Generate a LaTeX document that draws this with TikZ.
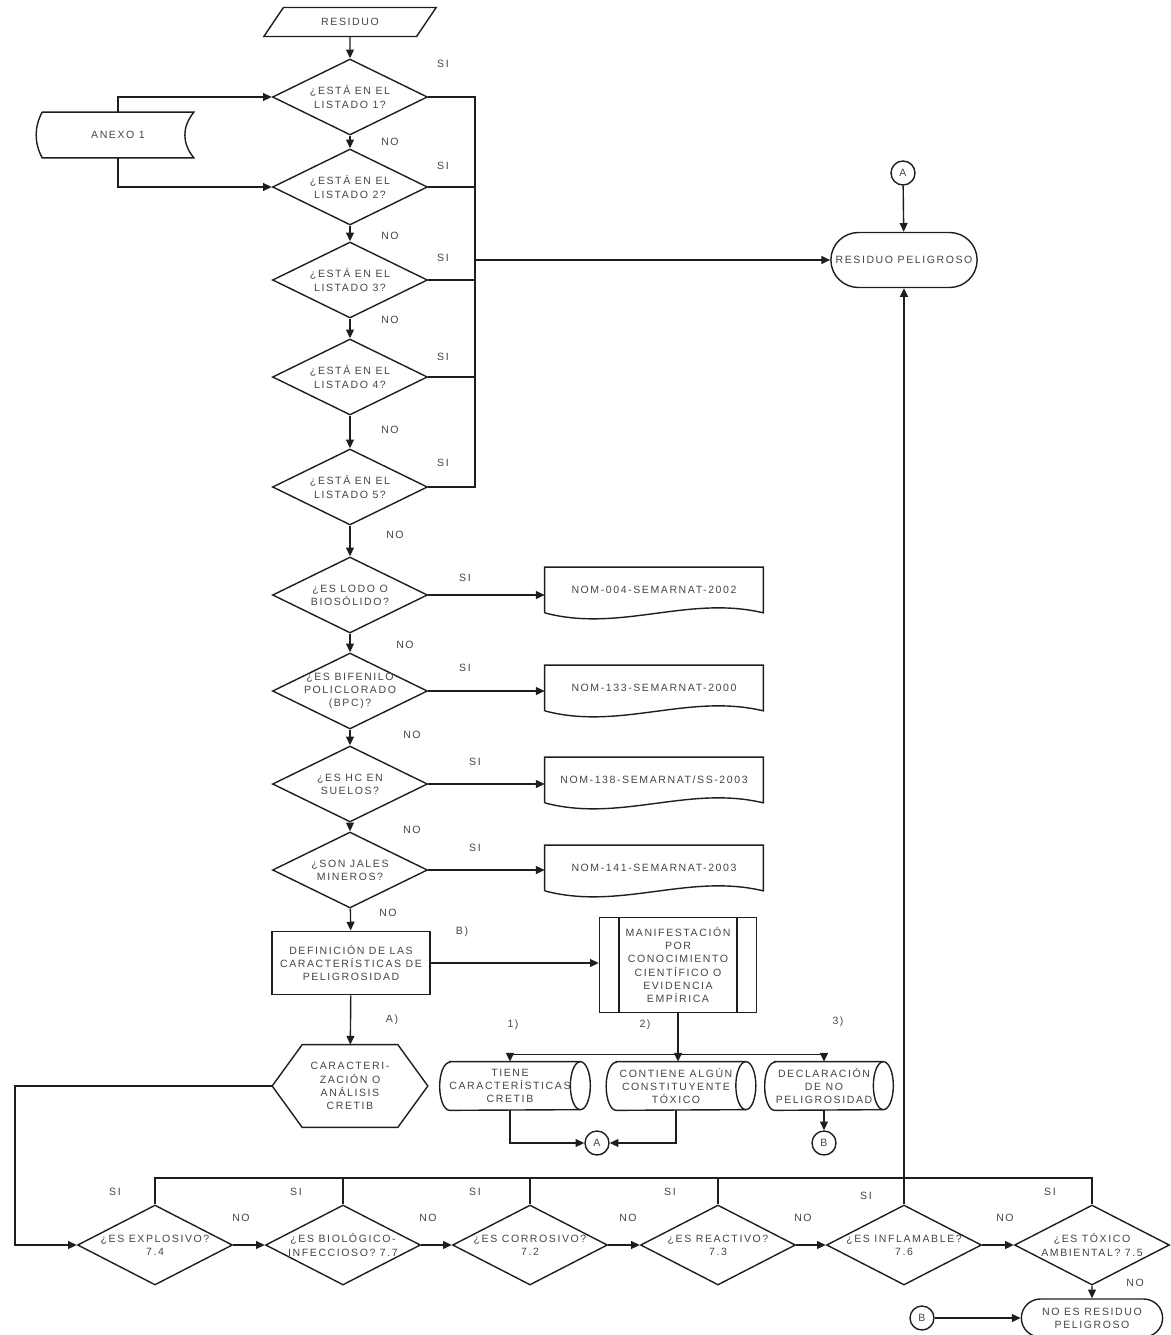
\documentclass[tikz,border=0pt]{standalone}
\usepackage{fontspec}
\newfontfamily\flowfont{Liberation Sans}[LetterSpace=15]
\usetikzlibrary{shapes.geometric, shapes.misc, arrows.meta, positioning, calc}
\definecolor{clrLine}{HTML}{1E1E1E}
\definecolor{clrText}{HTML}{444444}

\begin{document}
\begin{tikzpicture}[x=0.02cm, y=-0.02cm,
    txt/.style={font=\flowfont\fontsize{6}{7.5}\selectfont, text=clrText, align=center},
    decision/.style={txt, diamond, draw=clrLine, line width=0.8pt, aspect=2.1, minimum width=3.1cm, minimum height=1.52cm, inner xsep=-6pt, inner ysep=0pt},
    decwide/.style={decision, minimum height=1.6cm, inner xsep=-16pt},
    inout/.style={txt, trapezium, trapezium left angle=62, trapezium right angle=118, trapezium stretches=true, draw=clrLine, line width=0.8pt, minimum width=3.45cm, minimum height=0.58cm},
    process/.style={txt, rectangle, draw=clrLine, line width=1.1pt, minimum width=3.16cm, minimum height=1.26cm},
    predef/.style={txt, rectangle, draw=clrLine, line width=0.8pt, minimum width=3.14cm, minimum height=1.9cm},
    terminal/.style={txt, rounded rectangle, draw=clrLine, line width=0.8pt, minimum width=3.16cm, minimum height=1.1cm},
    connector/.style={txt, circle, draw=clrLine, line width=0.8pt, minimum size=0.48cm, inner sep=0pt},
    docbox/.style={txt, rectangle, minimum width=4.36cm, minimum height=0.9cm},
    storebox/.style={txt, rectangle, minimum width=3.02cm, minimum height=0.9cm},
    hexbox/.style={txt, rectangle, minimum width=3.1cm, minimum height=1.64cm},
    diskbox/.style={txt, rectangle, minimum height=0.96cm, inner xsep=0pt},
    lbl/.style={txt},
    link/.style={line width=0.8pt, draw=clrLine},
    arrow/.style={link, -{Triangle[length=5pt, width=4.5pt]}},
]
\useasboundingbox (0,0) rectangle (1170,1335);

% Input and listings
\node[inout] (residuo) at (350,22) {RESIDUO};
\node[decision] (l1) at (350,97) {¿ESTÁ EN EL\\LISTADO 1?};
\node[decision] (l2) at (350,187) {¿ESTÁ EN EL\\LISTADO 2?};
\node[decision] (l3) at (350,280) {¿ESTÁ EN EL\\LISTADO 3?};
\node[decision] (l4) at (350,377) {¿ESTÁ EN EL\\LISTADO 4?};
\node[decision] (l5) at (350,487) {¿ESTÁ EN EL\\LISTADO 5?};

% Anexo
\node[storebox] (anexo) at (118,135) {ANEXO 1};
\draw[link] (anexo.north west) -- (anexo.north east)
    .. controls +(-12,15) and +(-12,-15) .. (anexo.south east)
    -- (anexo.south west)
    .. controls +(-8,-15) and +(-8,15) .. (anexo.north west);
\draw[arrow] (anexo.north) |- (l1.west);
\draw[arrow] (anexo.south) |- (l2.west);

% Hazardous waste
\node[terminal] (rp) at (904,260) {RESIDUO PELIGROSO};
\node[connector] (ca) at (903,173) {A};
\draw[arrow] (ca) -- (rp);

\coordinate (bus) at (475,260);
\draw[link] (l1.east) -| (bus) |- (l5.east);
\foreach \n in {l2,l3,l4}
    \draw[link] (\n.east) -- (\n.east -| bus);
\draw[arrow] (bus) -- (rp);

% Special regulations
\node[decision] (lodo) at (350,595) {¿ES LODO O\\BIOSÓLIDO?};
\node[decision] (bpc) at (350,691) {¿ES BIFENILO\\POLICLORADO\\(BPC)?};
\node[decision] (hc) at (350,784) {¿ES HC EN\\SUELOS?};
\node[decision] (jales) at (350,870) {¿SON JALES\\MINEROS?};

\node[docbox] (n1) at (654,590) {NOM-004-SEMARNAT-2002};
\node[docbox] (n2) at (654,688) {NOM-133-SEMARNAT-2000};
\node[docbox] (n3) at (654,780) {NOM-138-SEMARNAT/SS-2003};
\node[docbox] (n4) at (654,868) {NOM-141-SEMARNAT-2003};
\foreach \n in {n1,n2,n3,n4}
    \draw[link] (\n.south west) -- (\n.north west) -- (\n.north east) -- (\n.south east)
        .. controls +(-75,-18) and +(75,20) .. (\n.south west);
\foreach \d/\n in {lodo/n1, bpc/n2, hc/n3, jales/n4}
    \draw[arrow] (\d.east) -- (\d.east -| \n.west);

% Characteristics
\node[process] (def) at (351,963) {DEFINICIÓN DE LAS\\CARACTERÍSTICAS DE\\PELIGROSIDAD};
\node[predef] (manif) at (678,965) {MANIFESTACIÓN\\POR\\CONOCIMIENTO\\CIENTÍFICO O\\EVIDENCIA\\EMPÍRICA};
\draw[link] ([xshift=0.4cm]manif.north west) -- ([xshift=0.4cm]manif.south west);
\draw[link] ([xshift=-0.4cm]manif.north east) -- ([xshift=-0.4cm]manif.south east);
\draw[arrow] (def.east) -- (def.east -| manif.west);

\node[hexbox] (hex) at (350,1086) {CARACTERI-\\ZACIÓN O\\ANÁLISIS\\CRETIB};
\draw[link] (hex.west) -- ([xshift=0.6cm]hex.north west) -- ([xshift=-0.6cm]hex.north east)
    -- (hex.east) -- ([xshift=-0.6cm]hex.south east) -- ([xshift=0.6cm]hex.south west) -- cycle;

\foreach \a/\b in {residuo/l1, l1/l2, l2/l3, l3/l4, l4/l5, l5/lodo, lodo/bpc, bpc/hc, hc/jales, jales/def, def/hex}
    \draw[arrow] (\a) -- (\b);

% Manifestation options
\node[diskbox, minimum width=2.8cm] (c1) at (510,1086) {TIENE\\CARACTERÍSTICAS\\CRETIB};
\node[diskbox, minimum width=2.78cm] (c2) at (676,1086) {CONTIENE ALGÚN\\CONSTITUYENTE\\TÓXICO};
\node[diskbox, minimum width=2.36cm] (c3) at (824,1086) {DECLARACIÓN\\DE NO\\PELIGROSIDAD};
\foreach \c in {c1,c2,c3} {
    \draw[link] ([xshift=0.2cm]\c.north west) -- (\c.north east)
        arc[start angle=90, end angle=-90, x radius=0.2cm, y radius=0.48cm]
        -- ([xshift=0.2cm]\c.south west)
        arc[start angle=270, end angle=90, x radius=0.2cm, y radius=0.48cm] -- cycle;
    \draw[link] (\c.north east)
        arc[start angle=90, end angle=270, x radius=0.2cm, y radius=0.48cm];
}
\coordinate (split) at ($(manif.south)+(0,41)$);
\draw[link] (manif.south) -- (split);
\draw[link] (c1.north |- split) -- (c3.north |- split);
\draw[arrow] (c1.north |- split) -- (c1.north);
\draw[arrow] (split) -- (split |- c2.north);
\draw[arrow] (c3.north |- split) -- (c3.north);

\node[connector] (ca2) at (597,1143) {A};
\node[connector] (cb) at (824,1143) {B};
\draw[arrow] (c1.south) |- (ca2.west);
\draw[arrow] (c2.south) |- (ca2.east);
\draw[arrow] (c3.south) -- (cb.north);

% CRETIB tests
\node[decwide] (e1) at (155,1245) {¿ES EXPLOSIVO?\\7.4};
\node[decwide] (e2) at (343,1245) {¿ES BIOLÓGICO-\\INFECCIOSO? 7.7};
\node[decwide] (e3) at (530,1245) {¿ES CORROSIVO?\\7.2};
\node[decwide] (e4) at (718,1245) {¿ES REACTIVO?\\7.3};
\node[decwide] (e5) at (904,1245) {¿ES INFLAMABLE?\\7.6};
\node[decwide] (e6) at (1092,1245) {¿ES TÓXICO\\AMBIENTAL? 7.5};

\coordinate (loop) at (15,1245);
\draw[arrow] (hex.west) -| (loop) -- (e1.west);
\foreach \a/\b in {e1/e2, e2/e3, e3/e4, e4/e5, e5/e6}
    \draw[arrow] (\a) -- (\b);

\coordinate (top) at (904,1178);
\draw[link] (e1.north) |- (top) -| (e6.north);
\foreach \e in {e2,e3,e4}
    \draw[link] (\e.north) -- (\e.north |- top);
\draw[arrow, line width=1.2pt] (e5.north) -- (rp.south);

\node[terminal, minimum width=3.06cm, minimum height=0.76cm] (nrp) at (1092,1318) {NO ES RESIDUO\\PELIGROSO};
\node[connector] (cb2) at (922,1318) {B};
\draw[arrow] (e6) -- (nrp);
\draw[arrow] (cb2) -- (nrp);

% Branch labels
\foreach \x/\y [count=\i] in {443/64, 443/166, 443/258, 443/357, 443/463, 465/578, 465/668, 475/762, 475/848, 115/1192, 296/1192, 475/1192, 670/1192, 866/1196, 1050/1192}
    \node[lbl] (si\i) at (\x,\y) {SI};
\foreach \x/\y [count=\i] in {390/142, 390/236, 390/320, 390/430, 395/535, 405/645, 412/735, 412/830, 388/913, 241/1218, 428/1218, 628/1218, 803/1218, 1005/1218, 1135/1283}
    \node[lbl] (no\i) at (\x,\y) {NO};
\node[lbl] (lblB) at (462,932) {B)};
\node[lbl] (lblA) at (392,1020) {A)};
\node[lbl] (opt1) at (513,1025) {1)};
\node[lbl] (opt2) at (645,1025) {2)};
\node[lbl] (opt3) at (838,1022) {3)};

\end{tikzpicture}
\end{document}
